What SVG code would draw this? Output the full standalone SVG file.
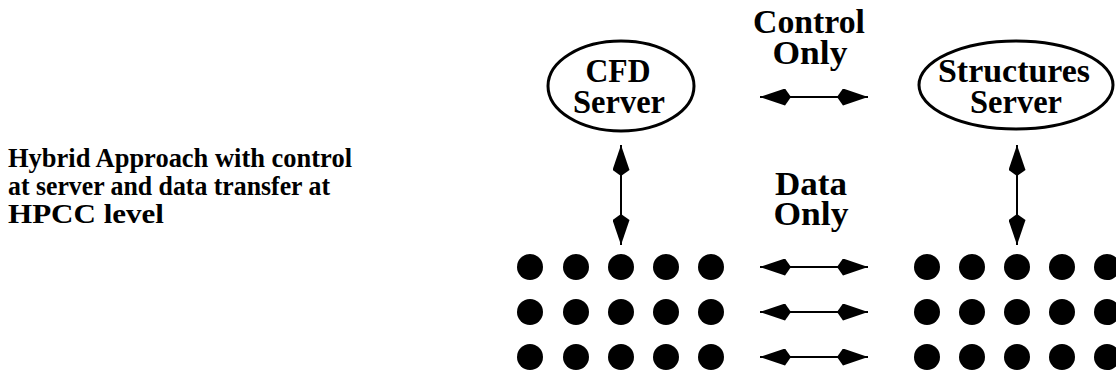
<svg xmlns="http://www.w3.org/2000/svg" width="1116" height="373" viewBox="0 0 1116 373">
<style>
.t{font-family:"Liberation Serif","Times New Roman",serif;font-weight:bold;fill:#000}
.big{font-size:34px;text-anchor:middle}
.side{font-size:27px}
.node{fill:#fff;stroke:#000;stroke-width:3}
.dot{fill:#000}
.ln{stroke:#000;stroke-width:2;fill:none}
</style>
<defs>
<marker id="ah" markerUnits="userSpaceOnUse" viewBox="0 0 31 17" refX="31" refY="8.5" markerWidth="31" markerHeight="17" orient="auto-start-reverse">
<path d="M31,8.5 L6,0 L0,8.5 L6,17 Z" fill="#000"/>
</marker>
</defs>
<rect width="1116" height="373" fill="#fff"/>
<g id="caption">
<text class="t side" x="8" y="167" textLength="344" lengthAdjust="spacingAndGlyphs">Hybrid Approach with control</text>
<text class="t side" x="8" y="195" textLength="322" lengthAdjust="spacingAndGlyphs">at server and data transfer at</text>
<text class="t side" x="8" y="223" textLength="156" lengthAdjust="spacingAndGlyphs">HPCC level</text>
</g>
<g id="cfd-server">
<ellipse class="node" cx="621" cy="86" rx="73" ry="45"/>
<text class="t big" x="618" y="82" textLength="65" lengthAdjust="spacingAndGlyphs">CFD</text>
<text class="t big" x="619" y="113" textLength="92" lengthAdjust="spacingAndGlyphs">Server</text>
</g>
<g id="structures-server">
<ellipse class="node" cx="1016" cy="85" rx="97" ry="44"/>
<text class="t big" x="1014" y="82" textLength="152" lengthAdjust="spacingAndGlyphs">Structures</text>
<text class="t big" x="1016" y="113" textLength="92" lengthAdjust="spacingAndGlyphs">Server</text>
</g>
<g id="label-control">
<text class="t big" x="809" y="33" textLength="112" lengthAdjust="spacingAndGlyphs">Control</text>
<text class="t big" x="810" y="64" textLength="75" lengthAdjust="spacingAndGlyphs">Only</text>
</g>
<g id="label-data">
<text class="t big" x="811" y="195" textLength="72" lengthAdjust="spacingAndGlyphs">Data</text>
<text class="t big" x="811" y="225" textLength="75" lengthAdjust="spacingAndGlyphs">Only</text>
</g>
<g id="cfd-hpcc">
<circle class="dot" cx="530" cy="267" r="13"/><circle class="dot" cx="576" cy="267" r="13"/><circle class="dot" cx="621" cy="267" r="13"/><circle class="dot" cx="666" cy="267" r="13"/><circle class="dot" cx="711" cy="267" r="13"/>
<circle class="dot" cx="530" cy="312" r="13"/><circle class="dot" cx="576" cy="312" r="13"/><circle class="dot" cx="621" cy="312" r="13"/><circle class="dot" cx="666" cy="312" r="13"/><circle class="dot" cx="711" cy="312" r="13"/>
<circle class="dot" cx="530" cy="357" r="13"/><circle class="dot" cx="576" cy="357" r="13"/><circle class="dot" cx="621" cy="357" r="13"/><circle class="dot" cx="666" cy="357" r="13"/><circle class="dot" cx="711" cy="357" r="13"/>
</g>
<g id="structures-hpcc">
<circle class="dot" cx="927" cy="267" r="13"/><circle class="dot" cx="972" cy="267" r="13"/><circle class="dot" cx="1017" cy="267" r="13"/><circle class="dot" cx="1062" cy="267" r="13"/><circle class="dot" cx="1107" cy="267" r="13"/>
<circle class="dot" cx="927" cy="312" r="13"/><circle class="dot" cx="972" cy="312" r="13"/><circle class="dot" cx="1017" cy="312" r="13"/><circle class="dot" cx="1062" cy="312" r="13"/><circle class="dot" cx="1107" cy="312" r="13"/>
<circle class="dot" cx="927" cy="357" r="13"/><circle class="dot" cx="972" cy="357" r="13"/><circle class="dot" cx="1017" cy="357" r="13"/><circle class="dot" cx="1062" cy="357" r="13"/><circle class="dot" cx="1107" cy="357" r="13"/>
</g>
<g id="connectors">
<line class="ln" x1="760" y1="97" x2="868" y2="97" marker-start="url(#ah)" marker-end="url(#ah)"/>
<line class="ln" x1="621" y1="145" x2="621" y2="245" marker-start="url(#ah)" marker-end="url(#ah)"/>
<line class="ln" x1="1017" y1="145" x2="1017" y2="245" marker-start="url(#ah)" marker-end="url(#ah)"/>
<line class="ln" x1="760" y1="267" x2="868" y2="267" marker-start="url(#ah)" marker-end="url(#ah)"/>
<line class="ln" x1="760" y1="312" x2="868" y2="312" marker-start="url(#ah)" marker-end="url(#ah)"/>
<line class="ln" x1="760" y1="357" x2="868" y2="357" marker-start="url(#ah)" marker-end="url(#ah)"/>
</g>
</svg>
